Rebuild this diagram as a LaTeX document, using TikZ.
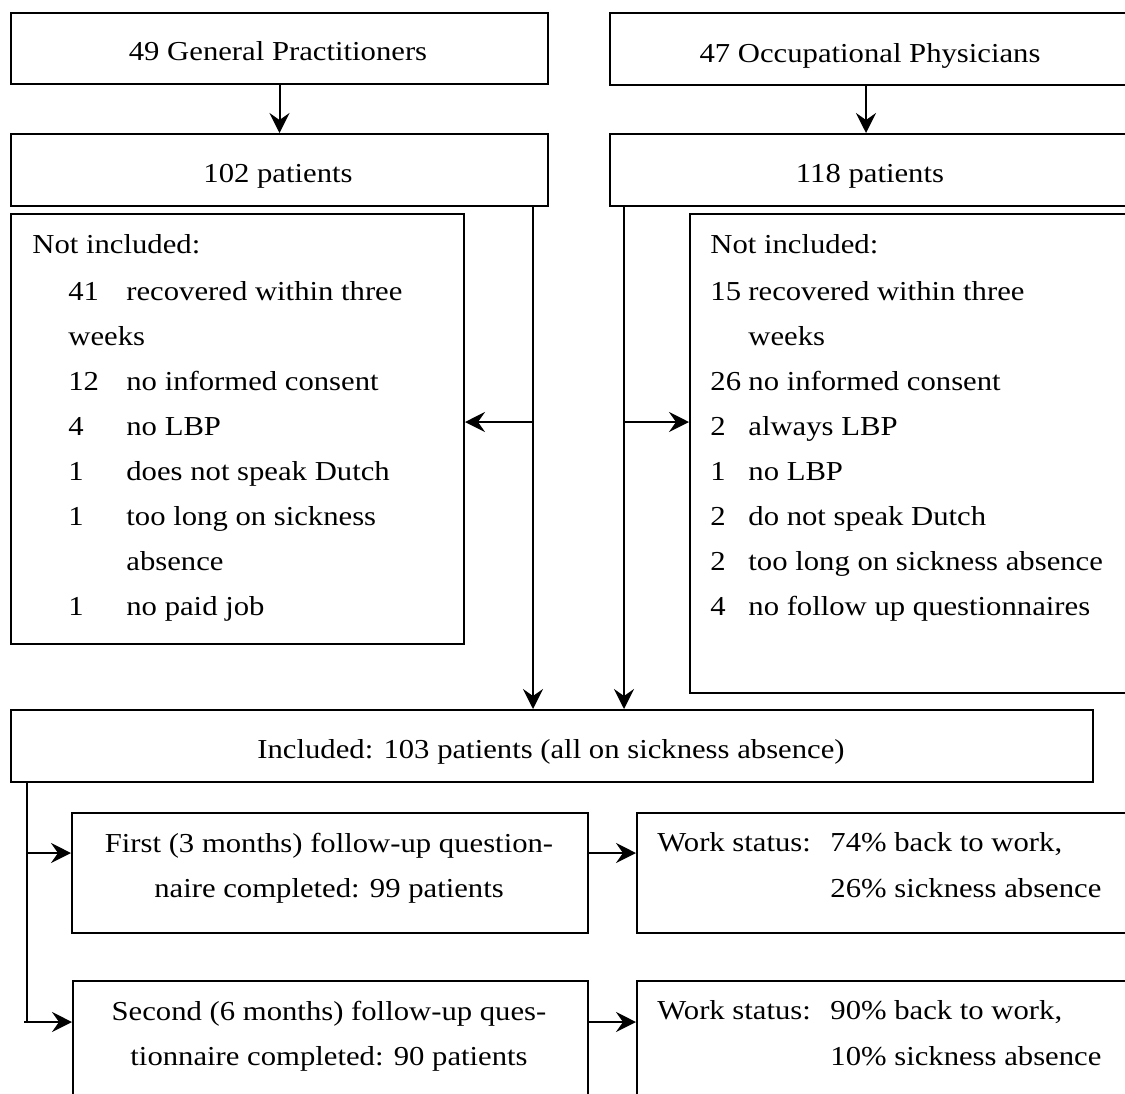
\documentclass[tikz,border=0pt]{standalone}
\usepackage{fontspec}
\setmainfont[FakeStretch=1.12]{Liberation Serif}
\usetikzlibrary{arrows.meta,calc}
\newcommand\fsz{\fontsize{13.7}{15}\selectfont}
\begin{document}
\begin{tikzpicture}[x=0.5pt,y=-0.5pt,
  box/.style={draw,line width=1pt,rectangle,inner sep=0pt,anchor=north west},
  lbl/.style={inner sep=0pt,anchor=base west,font=\fsz},
  ctr/.style={inner sep=0pt,anchor=base,font=\fsz},
  arr/.style={line width=1pt,-{Stealth[length=10pt,width=10pt,inset=3.5pt]}},
  ln/.style={line width=1pt}]
\useasboundingbox (0,0) rectangle (1125,1093);
\clip (0,0) rectangle (1125,1093);

% boxes
\node[box,minimum width=268.5pt,minimum height=35.5pt] (gp) at (10,12) {};
\node[box,minimum width=268.5pt,minimum height=36pt] (p102) at (10,133) {};
\node[box,minimum width=261pt,minimum height=36pt] (op) at (609,12) {};
\node[box,minimum width=261pt,minimum height=36pt] (p118) at (609,133) {};
\node[box,minimum width=226.5pt,minimum height=215pt] (exL) at (10,213) {};
\node[box,minimum width=221pt,minimum height=239.5pt] (exR) at (689,213) {};
\node[box,minimum width=541pt,minimum height=36pt] (incl) at (10,709) {};
\node[box,minimum width=258pt,minimum height=60pt] (fst) at (71,812) {};
\node[box,minimum width=257.5pt,minimum height=60pt] (sec) at (72,980) {};
\node[box,minimum width=247.5pt,minimum height=60pt] (ws1) at (636,812) {};
\node[box,minimum width=247.5pt,minimum height=60pt] (ws2) at (636,980) {};

% texts
\node[ctr] (tgp) at (278,60) {49 General Practitioners};
\node[ctr] (t102) at (278,182) {102 patients};
\node[ctr] (top) at (870,62) {47 Occupational Physicians};
\node[ctr] (t118) at (870,182) {118 patients};

\node[lbl] (lh) at (32,253) {Not included:};
\node[lbl] (ln1) at (68,300) {41};
\node[lbl] (lt1) at (126,300) {recovered within three};
\node[lbl] (lt1b) at (68,345) {weeks};
\node[lbl] (ln2) at (68,390) {12};
\node[lbl] (lt2) at (126,390) {no informed consent};
\node[lbl] (ln3) at (68,435) {4};
\node[lbl] (lt3) at (126,435) {no LBP};
\node[lbl] (ln4) at (68,480) {1};
\node[lbl] (lt4) at (126,480) {does not speak Dutch};
\node[lbl] (ln5) at (68,525) {1};
\node[lbl] (lt5) at (126,525) {too long on sickness};
\node[lbl] (lt5b) at (126,570) {absence};
\node[lbl] (ln6) at (68,615) {1};
\node[lbl] (lt6) at (126,615) {no paid job};

\node[lbl] (rh) at (710,253) {Not included:};
\node[lbl] (rn1) at (710,300) {15};
\node[lbl] (rt1) at (748,300) {recovered within three};
\node[lbl] (rt1b) at (748,345) {weeks};
\node[lbl] (rn2) at (710,390) {26};
\node[lbl] (rt2) at (748,390) {no informed consent};
\node[lbl] (rn3) at (710,435) {2};
\node[lbl] (rt3) at (748,435) {always LBP};
\node[lbl] (rn4) at (710,480) {1};
\node[lbl] (rt4) at (748,480) {no LBP};
\node[lbl] (rn5) at (710,525) {2};
\node[lbl] (rt5) at (748,525) {do not speak Dutch};
\node[lbl] (rn6) at (710,570) {2};
\node[lbl] (rt6) at (748,570) {too long on sickness absence};
\node[lbl] (rn7) at (710,615) {4};
\node[lbl] (rt7) at (748,615) {no follow up questionnaires};

\node[ctr] (tinc) at (551,758) {Included: 103 patients (all on sickness absence)};
\node[ctr] (tf1) at (329,852) {First (3 months) follow-up question-};
\node[ctr] (tf2) at (329,897) {naire completed: 99 patients};
\node[ctr] (ts1) at (329,1020) {Second (6 months) follow-up ques-};
\node[ctr] (ts2) at (329,1065) {tionnaire completed: 90 patients};
\node[lbl] (w1a) at (657,851) {Work status:};
\node[lbl] (w1b) at (830,851) {74\% back to work,};
\node[lbl] (w1c) at (830,897) {26\% sickness absence};
\node[lbl] (w2a) at (657,1019) {Work status:};
\node[lbl] (w2b) at (830,1019) {90\% back to work,};
\node[lbl] (w2c) at (830,1065) {10\% sickness absence};

% connectors
\draw[arr] (gp.south) -- (p102.north);
\draw[arr] ([xshift=-2.5pt]op.south) -- ([xshift=-2.5pt]p118.north);

\coordinate (vl) at ([xshift=-8pt]p102.south east);
\coordinate (vr) at ([xshift=7.5pt]p118.south west);
\coordinate (hy) at (0,422);
\draw[arr] (vl) -- (vl |- incl.north);
\draw[arr] (vr) -- (vr |- incl.north);
\draw[arr] (vl |- hy) -- (exL.east |- hy);
\draw[arr] (vr |- hy) -- (exR.west |- hy);

\coordinate (tl) at ([xshift=8.5pt]incl.south west);
\coordinate (tl2) at ([xshift=-1.5pt]tl);
\coordinate (a1) at (0,853);
\coordinate (a2) at (0,1022);
\draw[ln] (tl) -- (tl |- a2);
\draw[arr] (tl |- a1) -- (fst.west |- a1);
\draw[arr] (tl2 |- a2) -- (sec.west |- a2);
\draw[arr] (fst.east |- a1) -- (ws1.west |- a1);
\draw[arr] (sec.east |- a2) -- (ws2.west |- a2);
\end{tikzpicture}
\end{document}
